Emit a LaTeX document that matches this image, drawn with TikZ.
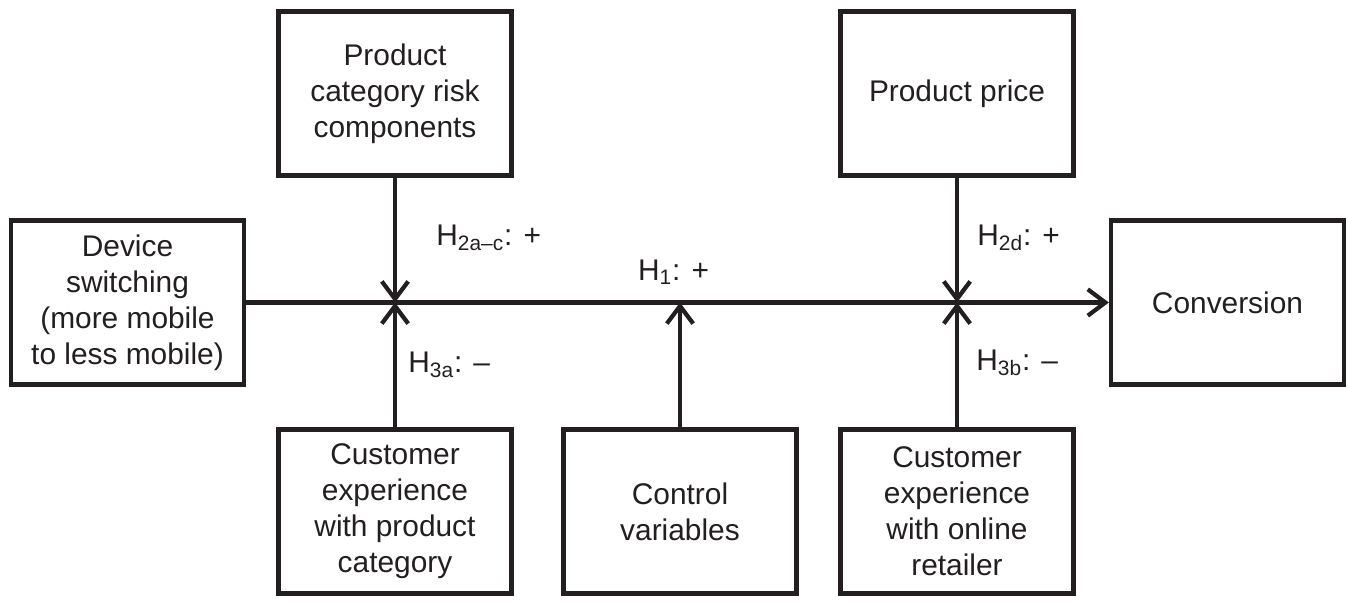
\documentclass[tikz,border=0pt]{standalone}
\usepackage{fontspec}
\setmainfont{Liberation Sans}
\usetikzlibrary{arrows.meta}
\definecolor{ink}{RGB}{35,31,32}
\tikzstyle{factor}=[rectangle, draw=ink, text=ink, line width=2.4pt, minimum width=4.66cm, minimum height=3.28cm, align=center, font=\fontsize{17}{20.5}\selectfont]
\tikzstyle{hyp}=[text=ink, inner sep=0pt, font=\fontsize{17}{20.5}\selectfont]
\tikzstyle{effect}=[draw=ink, line width=2.4pt, -{Straight Barb[length=10pt,width=15pt,line width=2.4pt]}]
\newcommand{\factor}{\node[factor]}

\begin{document}
\begin{tikzpicture}
\useasboundingbox (0,0) rectangle (26.96,-12.3);
\factor (dev) at (2.55,-6.05){Device\\switching\\(more mobile\\to less mobile)};
\factor (risk) at (7.9,-1.87){Product\\category risk\\components};
\factor (price) at (19.14,-1.87){Product price};
\factor (conv) at (24.55,-6.05){Conversion};
\factor (exprod) at (7.9,-10.23){Customer\\experience\\with product\\category};
\factor (ctrl) at (13.6,-10.23){Control\\variables};
\factor (exret) at (19.14,-10.23){Customer\\experience\\with online\\retailer};
\coordinate (j1) at (7.9,-6.05);
\coordinate (jc) at (13.6,-6.05);
\coordinate (j2) at (19.14,-6.05);
\draw[effect] (dev)--(conv);
\draw[effect] (risk)--(j1);
\draw[effect] (exprod)--(j1);
\draw[effect] (ctrl)--(jc);
\draw[effect] (price)--(j2);
\draw[effect] (exret)--(j2);
\node[hyp, anchor=west] (l2ac) at (8.72,-4.76){H\textsubscript{2a–c}: +};
\node[hyp] (l1) at (13.47,-5.44){H\textsubscript{1}: +};
\node[hyp, anchor=west] (l2d) at (19.54,-4.76){H\textsubscript{2d}: +};
\node[hyp, anchor=west] (l3a) at (8.16,-7.3){H\textsubscript{3a}: –};
\node[hyp, anchor=west] (l3b) at (19.52,-7.26){H\textsubscript{3b}: –};
\end{tikzpicture}
\end{document}
